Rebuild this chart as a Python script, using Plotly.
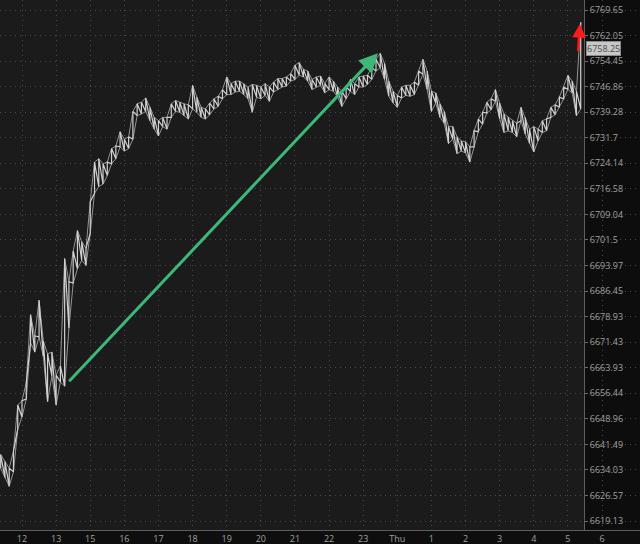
import numpy as np
import plotly.graph_objects as go

# ---------------- data ----------------
hour_labels = ["12", "13", "15", "16", "17", "18", "19", "20", "21", "22", "23",
               "Thu", "1", "2", "3", "4", "5", "6"]
price_ticks = [6769.65, 6762.05, 6754.45, 6746.86, 6739.28, 6731.7, 6724.14, 6716.58,
               6709.04, 6701.5, 6693.97, 6686.45, 6678.93, 6671.43, 6663.93, 6656.44,
               6648.96, 6641.49, 6634.03, 6626.57, 6619.13]
price_tick_text = ["6769.65", "6762.05", "6754.45", "6746.86", "6739.28", "6731.7", "6724.14",
                   "6716.58", "6709.04", "6701.5", "6693.97", "6686.45", "6678.93", "6671.43",
                   "6663.93", "6656.44", "6648.96", "6641.49", "6634.03", "6626.57", "6619.13"]

bar_start = -0.625   # first bar, in hour-slots relative to the "12" label
bar_step = 0.125     # 7.5 minute bars

bar_high = [6638.50, 6636.50, 6634.50, 6639.50, 6653.00, 6654.25, 6659.50, 6679.50, 6673.25, 6683.75,
            6671.75, 6668.00, 6668.50, 6661.75, 6664.50, 6696.00, 6689.25, 6698.25, 6704.25, 6701.00,
            6699.00, 6712.75, 6724.50, 6725.50, 6724.00, 6724.50, 6728.50, 6729.25, 6733.50, 6731.25,
            6732.00, 6739.50, 6741.75, 6742.25, 6743.50, 6740.75, 6737.75, 6736.75, 6737.75, 6737.75,
            6741.75, 6742.75, 6742.25, 6741.75, 6741.50, 6747.25, 6743.75, 6740.75, 6740.25, 6742.00,
            6743.25, 6744.00, 6746.00, 6749.75, 6747.75, 6748.50, 6748.50, 6747.75, 6746.75, 6747.50,
            6747.25, 6746.75, 6747.75, 6746.75, 6748.25, 6749.25, 6749.25, 6749.75, 6750.75, 6753.25,
            6754.00, 6752.00, 6751.50, 6749.00, 6749.75, 6750.00, 6747.75, 6749.75, 6748.50, 6746.75,
            6745.50, 6746.75, 6749.00, 6747.75, 6749.75, 6750.00, 6750.25, 6752.50, 6755.00, 6756.75,
            6753.75, 6748.50, 6745.50, 6744.25, 6746.75, 6747.25, 6747.25, 6748.25, 6751.50, 6755.00,
            6751.50, 6745.50, 6745.00, 6741.75, 6739.50, 6735.00, 6735.00, 6732.00, 6730.75, 6730.50,
            6729.00, 6733.75, 6737.25, 6739.25, 6742.25, 6743.25, 6746.00, 6742.00, 6738.75, 6737.75,
            6736.75, 6736.00, 6740.75, 6737.75, 6734.25, 6735.00, 6734.25, 6736.75, 6737.25, 6740.75,
            6741.50, 6743.75, 6746.75, 6750.25, 6748.50, 6745.50, 6766.00]
bar_low = [6634.50, 6631.75, 6629.25, 6633.50, 6646.00, 6649.50, 6654.75, 6671.25, 6668.50, 6673.00,
           6667.25, 6654.00, 6661.50, 6653.00, 6659.75, 6658.50, 6675.50, 6688.75, 6693.00, 6695.50,
           6694.00, 6703.50, 6715.25, 6717.25, 6718.00, 6720.50, 6724.00, 6725.50, 6729.00, 6727.75,
           6728.50, 6731.25, 6738.25, 6738.75, 6739.50, 6736.75, 6734.25, 6732.25, 6735.00, 6734.25,
           6737.75, 6739.50, 6739.25, 6738.25, 6737.25, 6740.25, 6739.25, 6737.75, 6737.25, 6738.50,
           6740.25, 6741.00, 6743.25, 6744.50, 6744.50, 6745.25, 6745.50, 6744.50, 6743.25, 6739.25,
           6743.75, 6743.25, 6744.25, 6742.50, 6745.25, 6746.00, 6746.75, 6747.00, 6748.50, 6749.00,
           6750.25, 6749.75, 6748.50, 6746.00, 6746.75, 6747.25, 6745.00, 6746.00, 6745.50, 6743.75,
           6741.00, 6743.25, 6745.50, 6744.50, 6746.75, 6746.75, 6747.50, 6749.00, 6751.50, 6752.50,
           6749.00, 6744.00, 6742.00, 6740.75, 6743.50, 6744.25, 6744.00, 6744.50, 6747.25, 6750.50,
           6746.00, 6739.50, 6742.00, 6737.75, 6736.00, 6730.00, 6731.25, 6727.00, 6727.75, 6727.25,
           6724.50, 6729.00, 6733.50, 6735.75, 6739.00, 6740.00, 6742.50, 6737.25, 6733.25, 6733.75,
           6733.25, 6732.00, 6736.75, 6732.75, 6730.00, 6727.50, 6730.75, 6733.25, 6733.75, 6737.75,
           6738.50, 6740.75, 6743.25, 6746.00, 6745.00, 6738.25, 6740.25]
last_price = 6758.25

# hand-drawn arrows: (hour-slot, price) of tail and tip
green_arrow_tail = (1.34, 6659.50)
green_arrow_tip = (10.43, 6756.75)
red_arrow_tail = (16.30, 6757.00)
red_arrow_tip = (16.35, 6765.50)

# ---------------- figure ----------------
W, H = 640, 544
MB = 14
AXIS_PX = 584          # x pixel of the price axis line
SLOT_PX = 34.12        # pixels per hour slot
SLOT0_PX = 22          # pixel of the first label

bar_x = bar_start + bar_step * np.arange(len(bar_high))

# y range (log) so that top tick sits 10px from the top and bottom tick at 521px
plot_h = H - MB
l_top, l_bot = np.log10(price_ticks[0]), np.log10(price_ticks[-1])
per_px = (l_top - l_bot) / (521 - 10)
y_range = [l_bot - (plot_h - 521) * per_px, l_top + 10 * per_px]
x_range = [(0 - SLOT0_PX) / SLOT_PX, (W - SLOT0_PX) / SLOT_PX]

# one continuous stroke through each bar's low and high
path_x, path_y = [], []
for t, hi, lo in zip(bar_x, bar_high, bar_low):
    path_x += [t, t]
    path_y += [lo, hi]

fig = go.Figure()
fig.add_trace(go.Scatter(x=bar_x, y=bar_low, mode="lines", line=dict(color="#949494", width=1),
                         hoverinfo="skip", showlegend=False))
fig.add_trace(go.Scatter(x=bar_x, y=bar_high, mode="lines", line=dict(color="#949494", width=1),
                         hoverinfo="skip", showlegend=False))
fig.add_trace(go.Scatter(x=path_x, y=path_y, mode="lines", line=dict(color="#d0d0d0", width=1.2),
                         hoverinfo="skip", showlegend=False))

grid = dict(showgrid=True, gridcolor="#4a4a4a", griddash="1px,4px", gridwidth=1, zeroline=False)
font = dict(family="Open Sans, Arial", size=9, color="#a0a0a0")

fig.update_layout(
    width=W, height=H,
    margin=dict(l=0, r=0, t=0, b=MB, pad=0),
    paper_bgcolor="#0e0e0e", plot_bgcolor="#1b1b1b",
    showlegend=False,
    xaxis=dict(range=x_range, tickmode="array", tickvals=list(range(len(hour_labels))),
               ticktext=hour_labels, ticks="", tickfont=font, showline=True, linecolor="#5e5e5e",
               linewidth=1, automargin=False, fixedrange=True, **grid),
    yaxis=dict(type="log", range=y_range, side="right", anchor="free", position=AXIS_PX / W,
               tickmode="array", tickvals=price_ticks, ticktext=price_tick_text,
               ticks="outside", ticklen=3, tickcolor="#6a6a6a", tickfont=font,
               showline=True, linecolor="#5e5e5e", linewidth=1, automargin=False, **grid),
    shapes=[dict(type="rect", xref="paper", yref="paper", x0=AXIS_PX / W, x1=1, y0=0, y1=1,
                 fillcolor="#0d0d0d", line=dict(width=0), layer="between")],
)

def arrow(tail, tip, color, width, size):
    fig.add_annotation(x=tip[0], y=np.log10(tip[1]), ax=tail[0], ay=np.log10(tail[1]),
                       xref="x", yref="y", axref="x", ayref="y", text="", showarrow=True,
                       arrowhead=2, arrowsize=size, arrowwidth=width, arrowcolor=color,
                       standoff=0, startstandoff=0)

arrow(green_arrow_tail, green_arrow_tip, "#3cb878", 3, 1.25)
arrow(red_arrow_tail, red_arrow_tip, "#ff1a1a", 2.5, 1.1)

fig.add_annotation(x=(AXIS_PX + 2) / W, xref="paper", xanchor="left", y=np.log10(last_price), yref="y",
                   text="6758.25", showarrow=False, bgcolor="#c8c8c8", bordercolor="#8a8a8a",
                   borderwidth=1, borderpad=0, font=dict(family="Open Sans, Arial", size=9, color="#4a4a4a"))

fig.write_html("out.html", config={"displayModeBar": False, "staticPlot": True},
               post_script="document.body.style.margin='0px';document.body.style.overflow='hidden';")
